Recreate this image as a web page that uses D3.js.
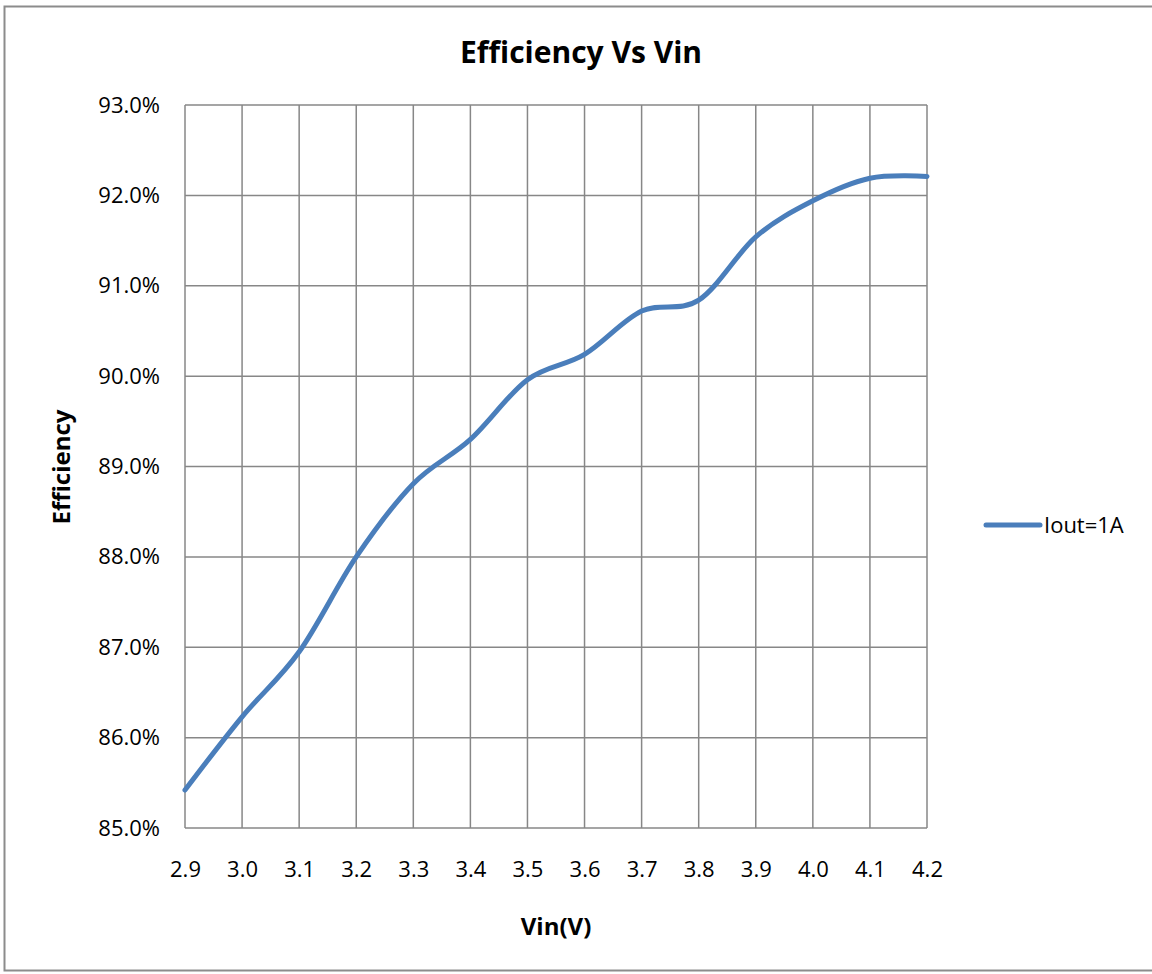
<!DOCTYPE html>
<html>
<head>
<meta charset="utf-8">
<script src="https://cdn.jsdelivr.net/npm/d3@7"></script>
<style>
  body { margin: 0; background: #fff; }
  text { font-family: "Open Sans", "Noto Sans", sans-serif; fill: #000; }
</style>
</head>
<body>
<script>
// values
var vinLabels = ["2.9", "3.0", "3.1", "3.2", "3.3", "3.4", "3.5", "3.6", "3.7", "3.8", "3.9", "4.0", "4.1", "4.2"];
var efficiency = [85.42, 86.23, 86.95, 88.0, 88.81, 89.3, 89.96, 90.24, 90.72, 90.84, 91.54, 91.94, 92.19, 92.21];
var yTicks = [85, 86, 87, 88, 89, 90, 91, 92, 93];
var seriesName = "Iout=1A";

function main() {
    var margin = {top: 105, left: 185},
        width = 742,
        height = 723;

    var svg = d3.select("body").append("svg")
        .attr("width", 1152)
        .attr("height", 974);

    // outer chart border
    svg.append("rect")
        .attr("x", 4.5).attr("y", 6.5)
        .attr("width", 1160).attr("height", 964)
        .attr("fill", "none")
        .attr("stroke", "#8c8c8c")
        .attr("stroke-width", 2);

    var g = svg.append("g")
        .attr("transform", "translate(" + margin.left + "," + margin.top + ")");

    var x = d3.scalePoint()
        .domain(vinLabels)
        .range([0, width]);

    var y = d3.scaleLinear()
        .domain([85, 93])
        .range([height, 0]);

    // grid
    g.append("g").selectAll("line")
        .data(yTicks)
        .enter().append("line")
        .attr("x1", 0).attr("x2", width)
        .attr("y1", function(d) { return y(d); })
        .attr("y2", function(d) { return y(d); })
        .attr("stroke", "#878787")
        .attr("stroke-width", 1.5);

    g.append("g").selectAll("line")
        .data(vinLabels)
        .enter().append("line")
        .attr("x1", function(d) { return x(d); })
        .attr("x2", function(d) { return x(d); })
        .attr("y1", 0).attr("y2", height)
        .attr("stroke", "#878787")
        .attr("stroke-width", 1.5);

    // y axis
    var yAxis = g.append("g")
        .call(d3.axisLeft(y).tickValues(yTicks).tickSize(0).tickPadding(25)
            .tickFormat(function(d) { return d.toFixed(1) + "%"; }));
    yAxis.select(".domain").remove();
    yAxis.selectAll("text").style("font-size", "22px").style("font-family", "'Open Sans', sans-serif");

    // x axis
    var xAxis = g.append("g")
        .attr("transform", "translate(0," + height + ")")
        .call(d3.axisBottom(x).tickSize(0).tickPadding(33));
    xAxis.select(".domain").remove();
    xAxis.selectAll("text").style("font-size", "22px").style("font-family", "'Open Sans', sans-serif");

    // line
    var line = d3.line()
        .x(function(d, i) { return x(vinLabels[i]); })
        .y(function(d) { return y(d); })
        .curve(d3.curveCardinal.tension(0));

    g.append("path")
        .datum(efficiency)
        .attr("d", line)
        .attr("fill", "none")
        .attr("stroke", "#4a7ebb")
        .attr("stroke-width", 5)
        .attr("stroke-linecap", "round");

    // title
    svg.append("text")
        .attr("x", 581).attr("y", 63)
        .attr("text-anchor", "middle")
        .style("font-size", "30px")
        .style("font-weight", "bold")
        .text("Efficiency Vs Vin");

    // axis titles
    svg.append("text")
        .attr("x", 556).attr("y", 935)
        .attr("text-anchor", "middle")
        .style("font-size", "24px")
        .style("font-weight", "bold")
        .text("Vin(V)");

    svg.append("text")
        .attr("transform", "translate(70,467) rotate(-90)")
        .attr("text-anchor", "middle")
        .style("font-size", "24px")
        .style("font-weight", "bold")
        .text("Efficiency");

    // legend
    svg.append("line")
        .attr("x1", 986).attr("x2", 1040)
        .attr("y1", 525).attr("y2", 525)
        .attr("stroke", "#4a7ebb")
        .attr("stroke-width", 5)
        .attr("stroke-linecap", "round");

    svg.append("text")
        .attr("x", 1044).attr("y", 533)
        .style("font-size", "22px")
        .text(seriesName);
}

main();
</script>
</body>
</html>
